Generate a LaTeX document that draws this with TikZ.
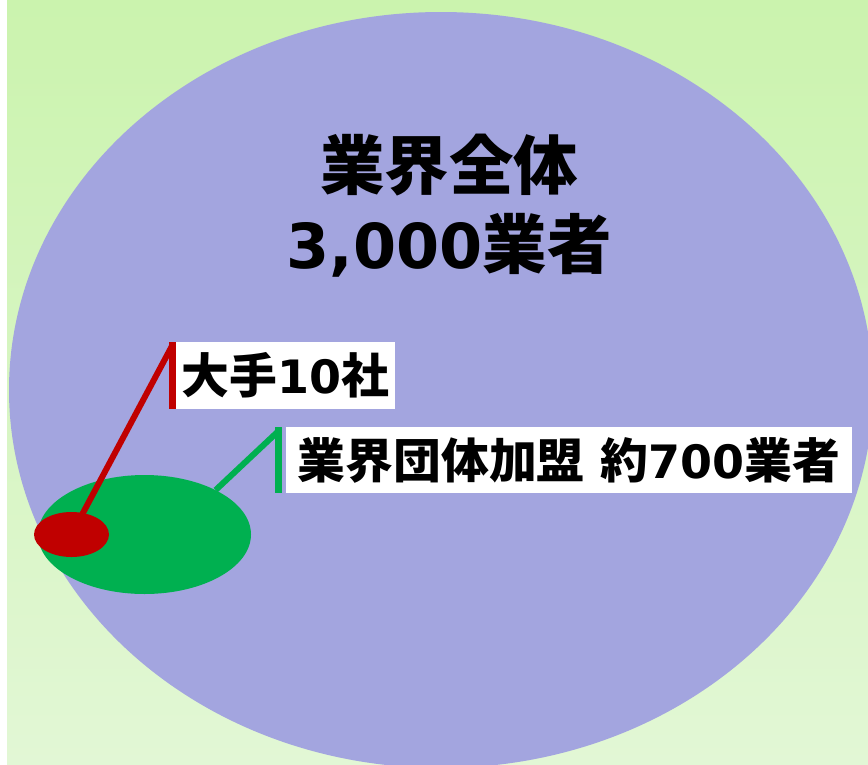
\documentclass[tikz,border=0pt]{standalone}
\usepackage{fontspec}
\setmainfont{DejaVu Sans}
\newfontfamily\jp{Noto Sans CJK JP}[Scale=1.04]
\usepackage{tikz}
\usetikzlibrary{shapes.geometric}
\definecolor{bgtop}{RGB}{203,243,174}
\definecolor{bgbot}{RGB}{226,247,213}
\definecolor{allblue}{RGB}{163,165,223}
\definecolor{assocgreen}{RGB}{0,176,80}
\definecolor{majred}{RGB}{192,0,0}

\begin{document}
\begin{tikzpicture}[x=1pt,y=-1pt]
\tikzstyle{blob}=[ellipse,inner sep=0pt,draw=none]
\tikzstyle{tag}=[rectangle,fill=white,inner sep=0pt,font=\bfseries\fontsize{46}{46}\selectfont]
\tikzstyle{headline}=[anchor=base,inner sep=0pt,font=\bfseries\fontsize{62}{62}\selectfont]
\useasboundingbox (0,0) rectangle (868,764);
\fill[white] (0,0) rectangle (7,764);
\shade[top color=bgtop,bottom color=bgbot] (7,0) rectangle (868,764);
% whole industry
\node[blob,fill=allblue,minimum width=864pt,minimum height=756pt] (whole) at (441,390) {};
\node[headline] (title1) at (449,189) {\jp 業界全体};
\node[headline] (title2) at (449,268) {3,000{\jp 業者}};
% association members and majors
\node[blob,fill=assocgreen,minimum width=213pt,minimum height=119pt] (assoc) at (144.5,534.5) {};
\coordinate (majtop) at (172.5,342);
\coordinate (majbot) at (172.5,409);
\coordinate (majjoin) at (172.5,345);
\coordinate (assoctop) at (278.5,427);
\coordinate (assocbot) at (278.5,493);
\coordinate (assocjoin) at (278.5,431);
\draw[assocgreen,line width=6pt] (assoc.32) -- (assocjoin);
\draw[majred,line width=6pt] (71.5,534.5) -- (majjoin);
\node[blob,fill=majred,minimum width=75pt,minimum height=45pt] (majors) at (71.5,534.5) {};
\draw[majred,line width=7pt] (majtop) -- (majbot);
\draw[assocgreen,line width=7pt] (assoctop) -- (assocbot);
\node[tag,minimum width=219pt,minimum height=67pt] (majtag) at (285.5,375.5) {{\jp 大手}10{\jp 社}};
\node[tag,minimum width=566pt,minimum height=66pt] (assoctag) at (569,460) {{\jp 業界団体加盟} {\jp 約}700{\jp 業者}};
\end{tikzpicture}
\end{document}
